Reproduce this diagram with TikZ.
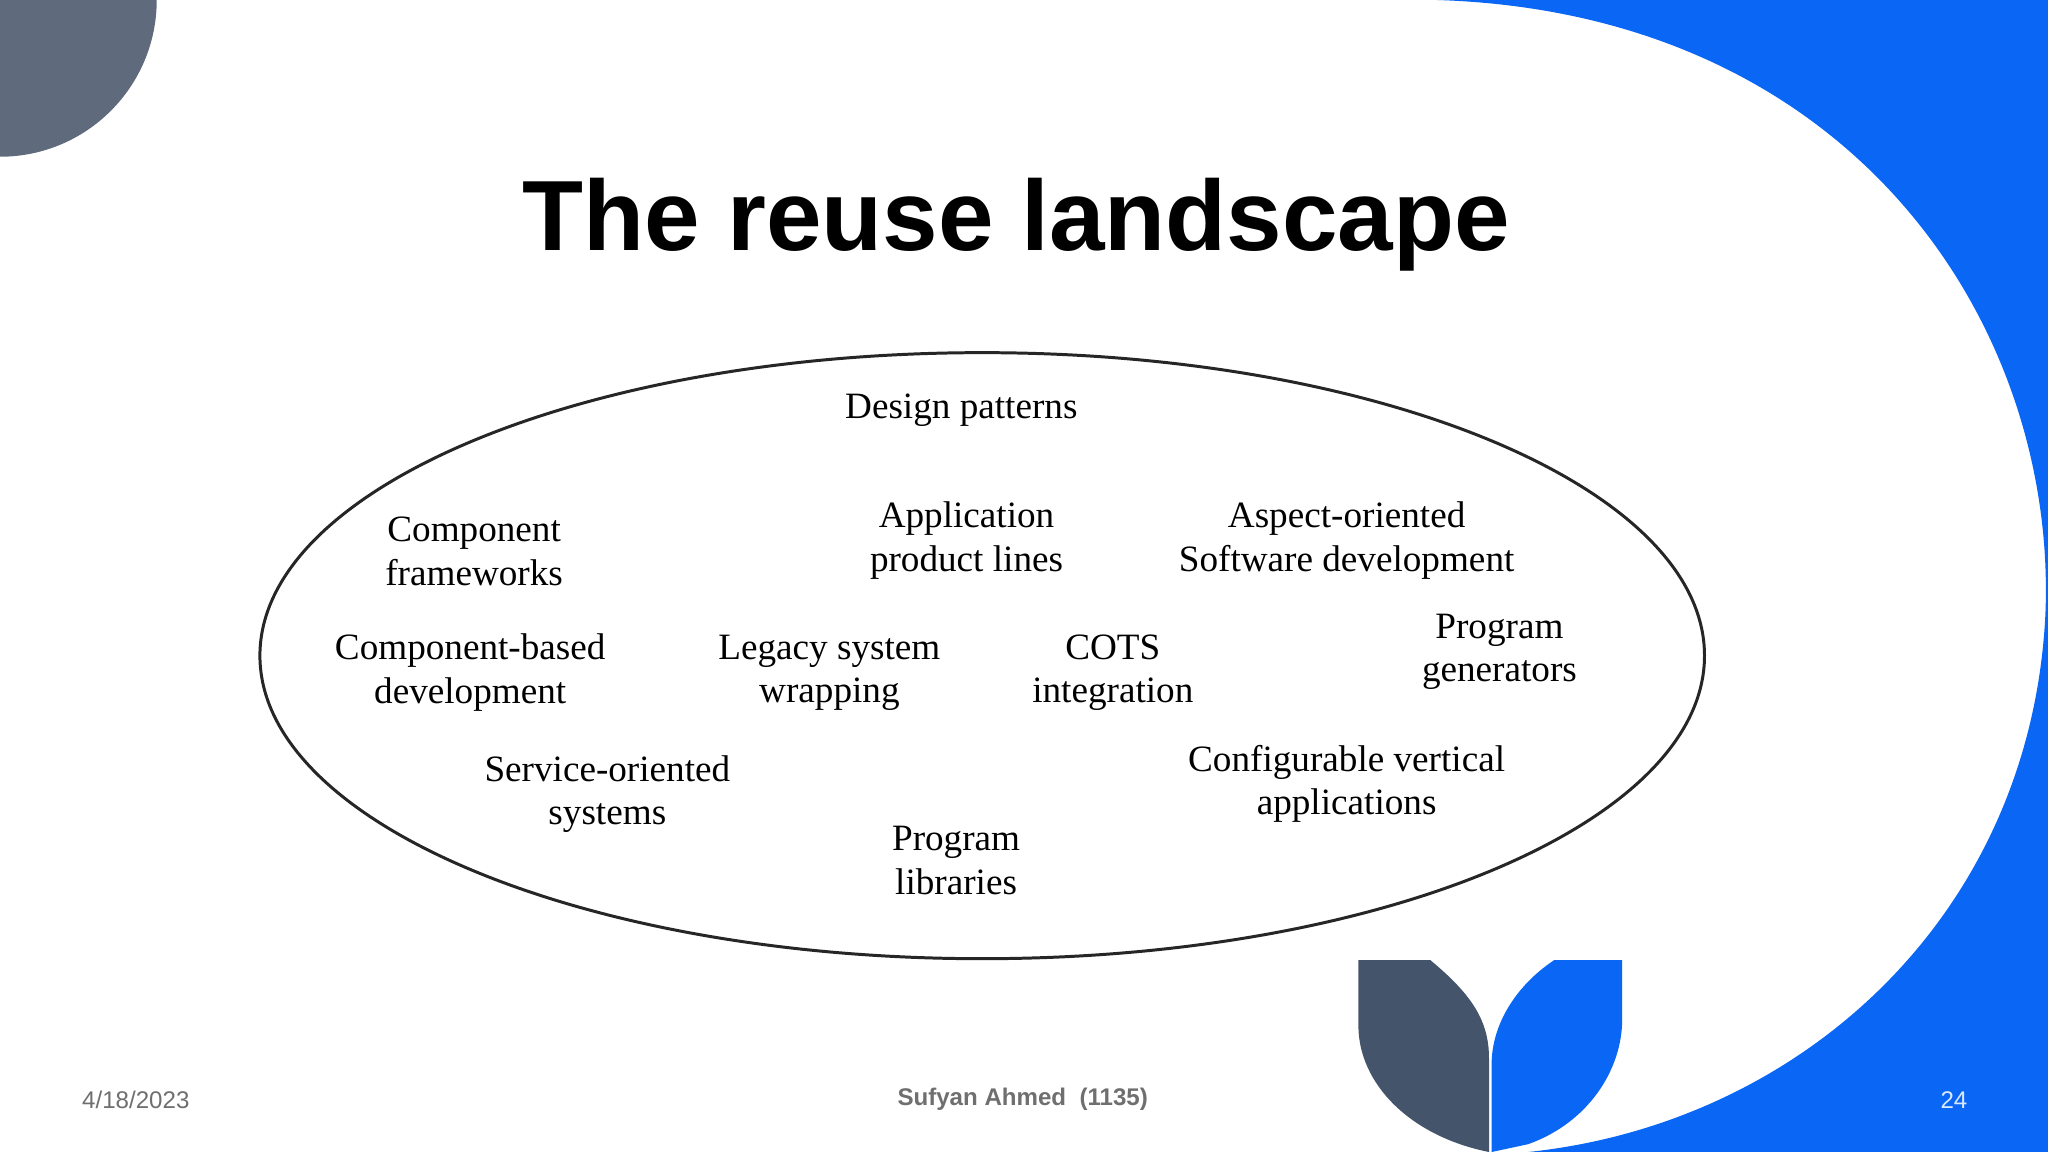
\documentclass[tikz,border=0pt]{standalone}
\usepackage{fontspec}
\setmainfont{Liberation Serif}
\setsansfont{Liberation Sans}
\definecolor{slate}{HTML}{5F6B7D}
\definecolor{dslate}{HTML}{44546A}
\definecolor{brblue}{HTML}{0A66F5}
\definecolor{foot}{HTML}{6F6F6F}
\tikzset{lbl/.style={font=\fontsize{16.2}{19}\selectfont, align=center, text=black}}
\begin{document}
\begin{tikzpicture}[x=0.02cm,y=-0.02cm]
\useasboundingbox (0,0) rectangle (1568,882);
\fill[white] (0,0) rectangle (1568,882);
% top-left quarter circle
\fill[slate] (0,0) -- (120,0) arc[start angle=0,end angle=90,radius=120] -- cycle;
% right blue shape
\fill[brblue] (1100,0) .. controls (1420,10) and (1575,250) .. (1566,470)
  .. controls (1555,700) and (1380,860) .. (1170,882) -- (1568,882) -- (1568,0) -- cycle;
% bottom shapes
\fill[dslate] (1040,735) -- (1095,735) .. controls (1125,760) and (1140,780) .. (1140,810)
  -- (1140,882) .. controls (1080,870) and (1040,830) .. (1040,785) -- cycle;
\fill[brblue] (1242,735) -- (1190,735) .. controls (1160,755) and (1142,785) .. (1142,815)
  -- (1142,882) -- (1170,876) .. controls (1215,860) and (1242,820) .. (1242,780) -- cycle;
% title
\node[font=\sffamily\bfseries\fontsize{43.5}{50}\selectfont] (title) at (778,172) {The reuse landscape};
% ellipse
\draw[line width=1.3pt,black!85] (752,502) ellipse[x radius=553,y radius=232];
\node[lbl] (dp) at (736,314) {Design patterns};
\node[lbl] (cf) at (363,422) {Component\\frameworks};
\node[lbl] (apl) at (740,414) {Application\\product lines};
\node[lbl] (aosd) at (1031,414) {Aspect-oriented\\Software development};
\node[lbl] (cbd) at (360,515) {Component-based\\development};
\node[lbl] (lsw) at (635,515) {Legacy system\\wrapping};
\node[lbl] (cots) at (852,515) {COTS\\integration};
\node[lbl] (pg) at (1148,499) {Program\\generators};
\node[lbl] (sos) at (465,608) {Service-oriented\\systems};
\node[lbl] (cva) at (1031,600) {Configurable vertical\\applications};
\node[lbl] (pl) at (732,659) {Program\\libraries};
% footer
\node[font=\sffamily\fontsize{10.5}{12}\selectfont,text=foot] (date) at (104,842) {4/18/2023};
\node[font=\sffamily\bfseries\fontsize{10.5}{12}\selectfont,text=foot] (auth) at (783,842) {Sufyan Ahmed\ \ (1135)};
\node[font=\sffamily\fontsize{10.5}{12}\selectfont,text=white!85!brblue] (pg24) at (1496,842) {24};
\end{tikzpicture}
\end{document}
